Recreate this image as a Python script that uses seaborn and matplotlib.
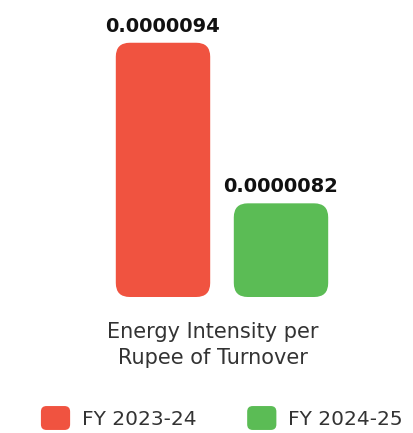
import matplotlib
matplotlib.use("Agg")
import matplotlib.pyplot as plt
import seaborn as sns
from matplotlib.patches import FancyBboxPatch, Patch
from matplotlib.legend_handler import HandlerPatch
from matplotlib.transforms import IdentityTransform

# data
periods = ["FY 2023-24", "FY 2024-25"]
intensity = [0.0000094, 0.0000082]
value_labels = ["0.0000094", "0.0000082"]
colors = ["#F05340", "#5BBC55"]
metric = "Energy Intensity per\nRupee of Turnover"

sns.set_theme(style="white")
plt.rcParams["font.family"] = ["DejaVu Sans"]

fig = plt.figure(figsize=(4.14, 4.33), dpi=100)
W, H = 414, 433
ax = fig.add_axes([104 / W, 136 / H, 236 / W, 277 / H])

sns.barplot(x=periods, y=intensity, hue=periods, palette=colors,
            saturation=1, legend=False, width=0.8, ax=ax)
ax.set_xlim(-0.5, 1.5)
ax.set_ylim(7.5e-6, 9.57e-6)

for cont, lab in zip(ax.containers, value_labels):
    ax.bar_label(cont, labels=[lab], padding=5, fontsize=14,
                 fontweight="bold", color="#111111")

# swap plain bars for rounded ones
ax_box = ax.get_window_extent()
for p in list(ax.patches):
    bb = p.get_window_extent()
    y0 = max(bb.y0, ax_box.y0)
    rounded = FancyBboxPatch((bb.x0, y0), bb.width, bb.y1 - y0,
                             boxstyle="round,pad=0,rounding_size=14",
                             facecolor=p.get_facecolor(), edgecolor="none",
                             transform=IdentityTransform(), clip_on=False)
    p.set_visible(False)
    fig.add_artist(rounded)

ax.set_axis_off()

fig.text(213 / W, 1 - 345 / H, metric, ha="center", va="center",
         fontsize=15, color="#333333", linespacing=1.4)


def rounded_handle(legend, orig_handle, xdescent, ydescent, width, height, fontsize):
    return FancyBboxPatch((-xdescent, -ydescent), width, height,
                          boxstyle="round,pad=0,rounding_size=4")


handles = [Patch(facecolor=c, edgecolor="none") for c in colors]
fig.legend(handles, periods, loc="center", bbox_to_anchor=(222 / W, 1 - 418 / H),
           ncol=2, frameon=False, fontsize=14.5, handlelength=1.45, handleheight=1.45,
           columnspacing=2.5, handletextpad=0.6, labelcolor="#333333",
           handler_map={Patch: HandlerPatch(patch_func=rounded_handle)})

fig.savefig("out.png", dpi=100, facecolor="white")
